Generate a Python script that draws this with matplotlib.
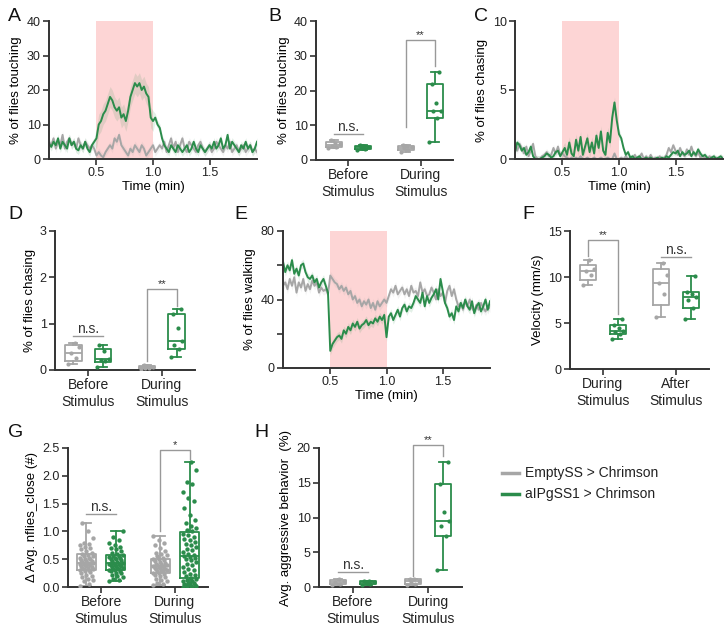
import numpy as np
import matplotlib
matplotlib.use('Agg')
import matplotlib.pyplot as plt
from matplotlib.lines import Line2D
from matplotlib.ticker import FormatStrFormatter

plt.rcParams['font.family'] = ['Liberation Sans', 'DejaVu Sans']
plt.rcParams['axes.linewidth'] = 1.4

GRAY = '#a6a6a6'
GREEN = '#2b8c4b'
PINK = '#fdd5d5'
DARK = '#333333'

# time segments (min): before, during, after stimulus
seg_times = [(0.08, 0.48), (0.50, 1.00), (1.02, 1.92)]

# A: % of flies touching
touch_green_before = [4.5, 3.5, 5, 4, 6, 3, 5, 4, 3, 6, 4, 5, 3, 2.5, 4, 3, 5, 3, 2, 4, 5]
touch_green_during = [6, 10, 11, 13, 14, 16, 18, 17, 15, 14, 15, 12, 13, 11, 14, 18, 20, 22, 21, 22,
                      20, 21, 19, 18, 12, 11]
touch_green_after = [12, 10, 9, 6, 4, 3, 2, 4, 3, 2, 4, 3, 2, 3, 4, 2, 3, 5, 3, 2, 4, 3, 2, 3, 4,
                     3, 5, 3, 4, 6, 3, 4, 7, 3, 5, 4, 3, 2, 4, 3, 5, 3, 4, 2, 3, 5]
touch_gray_before = [5, 4, 6, 3, 5, 4, 7, 3, 5, 6, 4, 5, 3, 6, 4, 3, 5, 4, 3, 4, 3]
touch_gray_during = [1, 2, 1, 0.5, 2, 3, 4, 3, 6, 5, 7, 4, 3, 2, 1, 3, 2, 4, 3, 2, 4, 3, 1, 2, 3, 4]
touch_gray_after = [2, 3, 4, 3, 5, 2, 4, 6, 3, 5, 2, 4, 6, 3, 2, 5, 4, 3, 2, 4, 5, 3, 2, 3, 4, 2,
                    3, 5, 4, 3, 2, 4, 3, 5, 2, 3, 4, 2, 3, 4, 2, 3, 4, 2, 3, 2]
touch_green_sem = [1.2, 3.0, 1.2]
touch_gray_sem = [1.2, 1.2, 1.2]

# C: % of flies chasing
chase_green_before = [0.5, 1.2, 1.0, 0.6, 0.8, 0.3, 0.5, 0.9, 0.2, 0, 0, 0, 0.1, 0.2, 0.4, 0.3, 0.1,
                      0.2, 0.5, 0.6, 0.2]
chase_green_during = [0.5, 0.8, 0.3, 1.2, 0.4, 0.2, 1.4, 0.6, 1.6, 0.3, 0.9, 1.5, 0.5, 1.2, 0.4, 1.7,
                      0.8, 2.0, 0.6, 0.3, 1.9, 1.2, 3.0, 4.1, 2.8, 1.8]
chase_green_after = [1.5, 0.8, 0.3, 0.5, 0.1, 0.2, 0, 0.1, 0.2, 0, 0, 0.1, 0, 0.1, 0, 0, 0.1, 0, 0.1,
                     0, 0.2, 0.1, 0.3, 0.5, 0.4, 0.6, 0.2, 0.5, 0.3, 0.4, 0.6, 0.2, 0.5, 0.3, 0.7, 0.4,
                     0.2, 0.3, 0.1, 0, 0.1, 0.2, 0, 0.1, 0.2, 0]
chase_gray_before = [1.0, 0.6, 1.1, 0.8, 0.4, 0.9, 0.2, 0.6, 1.1, 0.2, 0, 0, 0.2, 0.3, 0.5, 0.2, 0.3,
                     0.8, 0.4, 0.9, 0.3]
chase_gray_during = [0.4, 0.2, 0.1, 0, 0.1, 0, 0.1, 0, 0.2, 0, 0, 0.1, 0, 0, 0.1, 0, 0, 0.1, 0, 0,
                     0.1, 0, 0, 0.4, 0, 0]
chase_gray_after = [0.1, 0, 0.2, 0, 0.1, 0, 0.3, 0, 0.1, 0.4, 0, 0.2, 0, 0.3, 0, 0.1, 0, 0.2, 0, 0.1,
                    0.3, 0.8, 0.5, 1.0, 0.6, 0.3, 0.8, 0.4, 0.2, 0.7, 0.3, 0.9, 0.4, 0.2, 0.5, 0.1,
                    0.2, 0.1, 0, 0.2, 0.1, 0, 0.1, 0, 0, 0.1]
chase_green_sem = [0.25, 0.4, 0.2]
chase_gray_sem = [0.25, 0.15, 0.2]

# E: % of flies walking
walk_green_before = [62, 56, 60, 57, 63, 55, 58, 54, 60, 61, 56, 53, 52, 54, 50, 52, 47, 50, 52, 48, 44]
walk_green_during = [10, 14, 16, 18, 19, 17, 22, 20, 24, 22, 26, 24, 27, 23, 25, 26, 28, 25, 27, 26,
                     29, 27, 30, 28, 31, 18]
walk_green_after = [30, 32, 28, 31, 34, 30, 35, 37, 33, 36, 35, 38, 42, 40, 38, 44, 36, 42, 38, 41,
                    43, 46, 40, 52, 45, 38, 35, 30, 32, 28, 36, 33, 38, 35, 40, 36, 34, 39, 32, 36,
                    38, 33, 36, 40, 34, 39]
walk_gray_before = [48, 50, 46, 52, 48, 53, 44, 50, 47, 52, 45, 49, 46, 51, 48, 50, 44, 47, 45, 46, 43]
walk_gray_during = [54, 52, 50, 49, 46, 48, 45, 47, 43, 45, 40, 42, 38, 40, 36, 39, 37, 40, 35, 38,
                    34, 39, 36, 38, 40, 38]
walk_gray_after = [42, 46, 44, 48, 43, 45, 47, 43, 46, 42, 48, 44, 45, 42, 50, 44, 46, 42, 43, 47,
                   44, 40, 46, 42, 44, 38, 45, 48, 42, 46, 40, 36, 38, 34, 39, 36, 40, 35, 33, 37,
                   34, 38, 35, 33, 36, 35]
walk_green_sem = [2.5, 2.5, 2.5]
walk_gray_sem = [2.5, 2.5, 2.5]

# box plot groups: (gray, green) per category
cats_before_during = ['Before\nStimulus', 'During\nStimulus']
cats_during_after = ['During\nStimulus', 'After\nStimulus']

touch_box = [([3.4, 3.7, 4.0, 4.5, 4.9, 5.8], [3.0, 3.3, 3.5, 3.8, 4.0, 4.2]),
             ([2.2, 3.0, 3.4, 3.7, 4.0, 4.2], [5.3, 12.2, 14.0, 14.2, 16.5, 22.0, 25.2])]
chase_box = [([0.14, 0.25, 0.37, 0.5, 0.58], [0.07, 0.2, 0.22, 0.24, 0.42, 0.53]),
             ([0.02, 0.04, 0.05, 0.06, 0.08, 0.1], [0.28, 0.45, 0.55, 0.62, 0.9, 1.2, 1.32])]
velocity_box = [([9.1, 10.2, 10.6, 10.9, 11.8], [3.3, 3.8, 4.0, 4.1, 4.5, 4.8, 5.4]),
                ([5.7, 8.2, 9.3, 10.2, 11.5], [5.4, 6.6, 7.5, 7.8, 8.2, 8.4, 10.1])]
aggr_box = [([0.3, 0.5, 0.7, 0.9, 1.1], [0.3, 0.5, 0.6, 0.7, 0.8, 0.9]),
            ([0.3, 0.5, 0.7, 0.9, 1.1, 1.2], [2.5, 7.4, 8.8, 9.5, 10.8, 14.8, 18.0])]

close_gray_before = [0.02, 0.05, 0.1, 0.12, 0.15, 0.18, 0.2, 0.22, 0.25, 0.27, 0.28, 0.3, 0.3, 0.32,
                     0.33, 0.35, 0.35, 0.36, 0.38, 0.38, 0.4, 0.4, 0.41, 0.42, 0.42, 0.43, 0.44, 0.45,
                     0.46, 0.47, 0.48, 0.5, 0.5, 0.52, 0.53, 0.55, 0.56, 0.58, 0.6, 0.62, 0.65, 0.68,
                     0.7, 0.72, 0.75, 0.78, 0.8, 0.88, 1.0, 1.15]
close_green_before = [0.1, 0.12, 0.15, 0.18, 0.2, 0.22, 0.25, 0.26, 0.28, 0.29, 0.3, 0.31, 0.32, 0.33,
                      0.35, 0.35, 0.36, 0.37, 0.38, 0.39, 0.4, 0.4, 0.41, 0.42, 0.43, 0.44, 0.45, 0.46,
                      0.48, 0.5, 0.5, 0.52, 0.53, 0.54, 0.55, 0.56, 0.58, 0.6, 0.62, 0.65, 0.68, 0.7,
                      0.72, 0.75, 0.8, 0.85, 0.9, 1.0]
close_gray_during = [0.03, 0.05, 0.08, 0.1, 0.12, 0.15, 0.18, 0.2, 0.22, 0.23, 0.25, 0.26, 0.28, 0.29,
                     0.3, 0.31, 0.32, 0.33, 0.34, 0.35, 0.35, 0.36, 0.37, 0.38, 0.39, 0.4, 0.41, 0.42,
                     0.43, 0.45, 0.46, 0.48, 0.5, 0.5, 0.52, 0.55, 0.58, 0.6, 0.62, 0.65, 0.7, 0.75,
                     0.8, 0.85, 0.92]
close_green_during = [0.0, 0.0, 0.01, 0.02, 0.02, 0.03, 0.04, 0.05, 0.06, 0.07, 0.08, 0.1, 0.11, 0.13,
                      0.15, 0.17, 0.19, 0.21, 0.24, 0.27, 0.3, 0.33, 0.36, 0.39, 0.42, 0.45, 0.48, 0.5,
                      0.52, 0.54, 0.56, 0.58, 0.6, 0.63, 0.66, 0.69, 0.72, 0.75, 0.78, 0.81, 0.84, 0.87,
                      0.9, 0.93, 0.96, 1.0, 1.03, 1.06, 1.1, 1.15, 1.2, 1.3, 1.42, 1.55, 1.6, 1.7,
                      1.85, 1.88, 2.1, 2.25]
close_box = [(close_gray_before, close_green_before), (close_gray_during, close_green_during)]

W, H = 728, 625
fig = plt.figure(figsize=(W / 100, H / 100), dpi=100)


def axes_px(left, right, top, bottom):
    return fig.add_axes([left / W, 1 - bottom / H, (right - left) / W, (bottom - top) / H])


def style(ax):
    for s in ['top', 'right']:
        ax.spines[s].set_visible(False)
    for s in ['left', 'bottom']:
        ax.spines[s].set_color(DARK)
    ax.tick_params(direction='out', length=4, width=1.2, color=DARK, labelsize=9,
                   labelcolor='#222222', pad=2)


def series(segs, sem):
    t, y, e = [], [], []
    for (t0, t1), vals, s in zip(seg_times, segs, sem):
        t.extend(np.linspace(t0, t1, len(vals)))
        y.extend(vals)
        e.extend([s] * len(vals))
    return np.array(t), np.array(y, float), np.array(e, float)


def time_panel(ax, gray_segs, gray_sem, green_segs, green_sem, ymax, ylabel, yticks, yticklabels=None):
    ax.axvspan(0.5, 1.0, color=PINK, lw=0, zorder=0)
    for segs, sem, c in [(gray_segs, gray_sem, GRAY), (green_segs, green_sem, GREEN)]:
        t, y, e = series(segs, sem)
        ax.fill_between(t, np.clip(y - e, 0, None), y + e, color=c, alpha=0.13, lw=0, zorder=1)
        ax.plot(t, y, color=c, lw=1.4, zorder=2)
    ax.set_xlim(0.08, 1.92)
    ax.set_ylim(0, ymax)
    ax.set_xticks([0.5, 1.0, 1.5])
    ax.set_xticklabels(['0.5', '1.0', '1.5'])
    ax.set_yticks(yticks)
    if yticklabels is not None:
        ax.set_yticklabels(yticklabels)
    ax.set_xlabel('Time (min)', fontsize=9.5, labelpad=1)
    ax.set_ylabel(ylabel, fontsize=9.5, labelpad=3)
    style(ax)


def box_panel(ax, groups, cats, ymax, ylabel, yticks, width=0.22, msize=9):
    for i, (g_gray, g_green) in enumerate(groups):
        for vals, c, off in [(g_gray, GRAY, -0.2), (g_green, GREEN, 0.2)]:
            x = i + off
            q1, med, q3 = np.percentile(vals, [25, 50, 75], method='weibull')
            stats = dict(med=med, q1=q1, q3=q3, whislo=min(vals), whishi=max(vals), fliers=[])
            props = dict(color=c, lw=1.3)
            ax.bxp([stats], positions=[x], widths=width, showfliers=False,
                   boxprops=props, whiskerprops=props, capprops=props, medianprops=props,
                   manage_ticks=False)
            n = len(vals)
            jit = np.array([((k * 7) % 11 - 5) / 5.0 for k in range(n)]) * width * 0.35
            ax.scatter(x + jit, vals, s=msize, color=c, zorder=3, lw=0)
    ax.set_xlim(-0.45, 1.45)
    ax.set_ylim(0, ymax)
    ax.set_xticks([0, 1])
    ax.set_xticklabels(cats)
    ax.set_yticks(yticks)
    ax.set_ylabel(ylabel, fontsize=9.5, labelpad=3)
    style(ax)
    ax.tick_params(axis='x', labelsize=10)


def bracket(ax, x1, x2, y, yl, yr, txt):
    ax.plot([x1, x1, x2, x2], [yl, y, y, yr], color='#999999', lw=1, clip_on=False)
    ax.text((x1 + x2) / 2, y, txt, ha='center', va='bottom', fontsize=8, color='#333333',
            clip_on=False)


def ns(ax, x1, x2, y):
    ax.plot([x1, x2], [y, y], color='#999999', lw=1, clip_on=False)
    ax.text((x1 + x2) / 2, y, 'n.s.', ha='center', va='bottom', fontsize=10, color='#333333',
            clip_on=False)


# A
axA = axes_px(49, 257, 21, 159)
time_panel(axA, [touch_gray_before, touch_gray_during, touch_gray_after], touch_gray_sem,
           [touch_green_before, touch_green_during, touch_green_after], touch_green_sem,
           40, '% of flies touching', [0, 10, 20, 30, 40])

# B
axB = axes_px(316, 453, 21, 160)
box_panel(axB, touch_box, cats_before_during, 40, '% of flies touching', [0, 10, 20, 30, 40])
ns(axB, -0.2, 0.2, 7.5)
bracket(axB, 0.8, 1.2, 34.5, 9.5, 27, '**')

# C
axC = axes_px(515, 723, 21, 159)
time_panel(axC, [chase_gray_before, chase_gray_during, chase_gray_after], chase_gray_sem,
           [chase_green_before, chase_green_during, chase_green_after], chase_green_sem,
           10, '% of flies chasing', [0, 5, 10])

# D
axD = axes_px(55, 195, 231, 370)
box_panel(axD, chase_box, cats_before_during, 3, '% of flies chasing', [0, 1, 2, 3])
ns(axD, -0.2, 0.2, 0.73)
bracket(axD, 0.8, 1.2, 1.75, 0.2, 1.38, '**')

# E
axE = axes_px(283, 490, 231, 368)
time_panel(axE, [walk_gray_before, walk_gray_during, walk_gray_after], walk_gray_sem,
           [walk_green_before, walk_green_during, walk_green_after], walk_green_sem,
           80, '% of flies walking', [0, 20, 40, 60, 80], ['0', '', '40', '', '80'])

# F
axF = axes_px(570, 709, 231, 369)
box_panel(axF, velocity_box, cats_during_after, 15, 'Velocity (mm/s)', [0, 5, 10, 15])
bracket(axF, -0.2, 0.2, 14.0, 12.3, 6.0, '**')
ns(axF, 0.8, 1.2, 12.2)

# G
axG = axes_px(68, 208, 448, 587)
box_panel(axG, close_box, cats_before_during, 2.5, 'Δ Avg. nflies_close (#)',
          [0, 0.5, 1.0, 1.5, 2.0, 2.5], width=0.26, msize=10)
axG.yaxis.set_major_formatter(FormatStrFormatter('%.1f'))
ns(axG, -0.2, 0.2, 1.32)
bracket(axG, 0.8, 1.2, 2.47, 1.0, 2.3, '*')

# H
axH = axes_px(319, 462, 448, 587)
box_panel(axH, aggr_box, cats_before_during, 20, 'Avg. aggressive behavior  (%)', [0, 5, 10, 15, 20])
ns(axH, -0.2, 0.2, 2.2)
bracket(axH, 0.8, 1.2, 20.4, 1.6, 18.8, '**')

# panel letters
letters = [('A', 8, 8), ('B', 268, 8), ('C', 474, 8), ('D', 8, 206), ('E', 234, 206),
           ('F', 522, 206), ('G', 8, 424), ('H', 254, 424)]
for lab, x, y in letters:
    fig.text(x / W, 1 - y / H, lab, fontsize=14, va='top', ha='left', color='#111111')

# legend
for y, c, lab in [(473, GRAY, 'EmptySS > Chrimson'), (494, GREEN, 'aIPgSS1 > Chrimson')]:
    fig.add_artist(Line2D([502 / W, 519 / W], [1 - y / H, 1 - y / H], color=c, lw=2.5,
                          transform=fig.transFigure))
    fig.text(525 / W, 1 - y / H, lab, fontsize=10, va='center', ha='left', color='#222222')

fig.savefig('out.png', dpi=100)
